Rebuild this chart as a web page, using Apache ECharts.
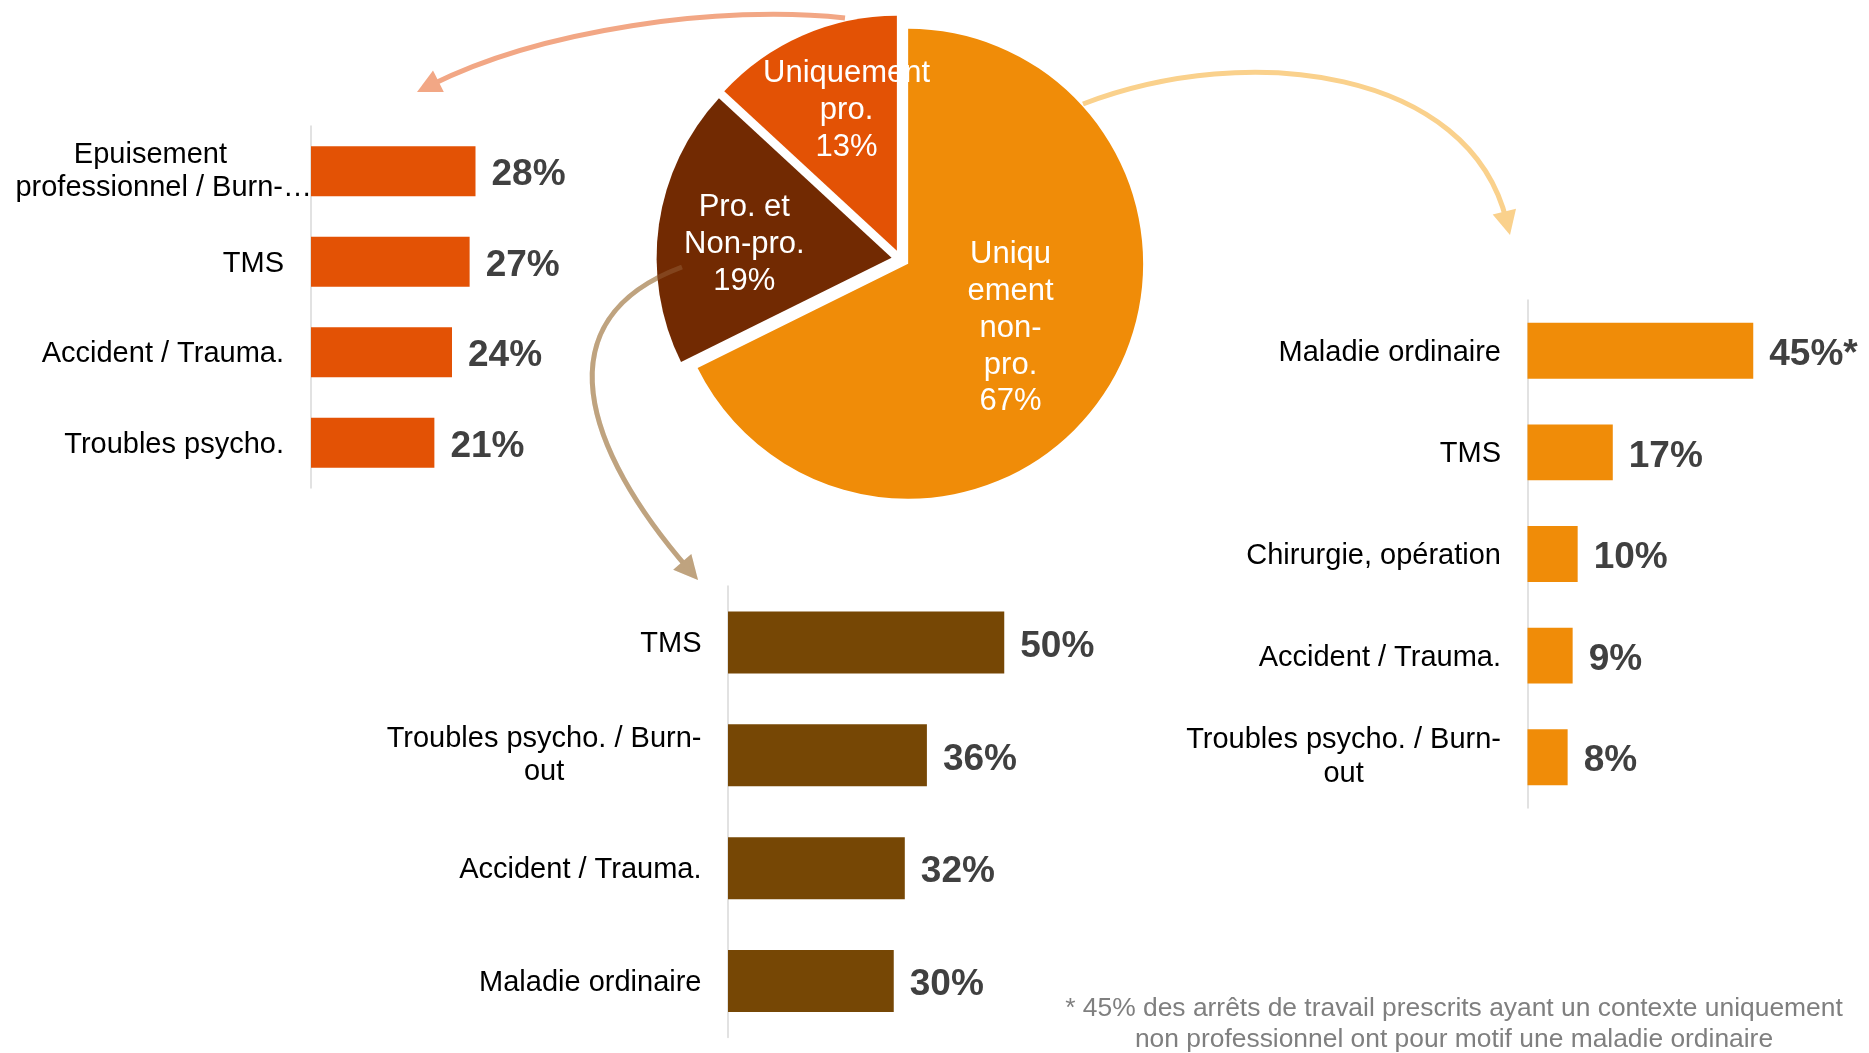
<!DOCTYPE html>
<html>
<head>
<meta charset="utf-8">
<script src="https://cdn.jsdelivr.net/npm/echarts@6/dist/echarts.min.js"></script>
<style>
  html, body { margin: 0; padding: 0; background: #fff; }
  #chart { width: 1869px; height: 1053px; }
</style>
</head>
<body>
<div id="chart"></div>
<script>
// contexte des arrêts (camembert)
var pieNames = ['Uniquement non-pro.', 'Pro. et Non-pro.', 'Uniquement pro.']
var pieLabels = ['Uniqu\nement\nnon-\npro.', 'Pro. et\nNon-pro.', 'Uniquement\npro.']
var pieValues = [67, 19, 13]

// motifs - uniquement pro.
var proCats = ['Epuisement\nprofessionnel / Burn-…', 'TMS', 'Accident / Trauma.', 'Troubles psycho.']
var proValues = [28, 27, 24, 21]

// motifs - pro. et non-pro.
var mixCats = ['TMS', 'Troubles psycho. / Burn-\nout', 'Accident / Trauma.', 'Maladie ordinaire']
var mixValues = [50, 36, 32, 30]

// motifs - uniquement non-pro.
var nonProCats = ['Maladie ordinaire', 'TMS', 'Chirurgie, opération', 'Accident / Trauma.', 'Troubles psycho. / Burn-\nout']
var nonProValues = [45, 17, 10, 9, 8]
var nonProNotes = ['*', '', '', '', '']

var footnote = '* 45% des arrêts de travail prescrits ayant un contexte uniquement\nnon professionnel ont pour motif une maladie ordinaire'

var FONT = "'Liberation Sans', Arial, sans-serif"
var RED = '#E35205'
var ORANGE = '#F08C08'
var BROWN = '#722A02'
var GOLD = '#764705'
var AXIS = '#D9D9D9'

var pieColors = [ORANGE, BROWN, RED]
var pieLabelShift = [[0, 1], [-28, 4], [-2, -30]]

var chart = echarts.init(document.getElementById('chart'))

function valueLabel(notes) {
  return {
    show: true,
    position: 'right',
    distance: 16,
    offset: [0, 4],
    fontFamily: FONT,
    fontSize: 37,
    fontWeight: 'bold',
    color: '#404040',
    formatter: function (p) {
      return p.value + '%' + (notes ? notes[p.dataIndex] : '')
    }
  }
}

// axe des catégories, libellés à gauche de l'axe
function catAxis(gridIndex, cats, margin, formatter, rich) {
  return {
    type: 'category',
    gridIndex: gridIndex,
    data: cats,
    inverse: true,
    axisLine: { lineStyle: { color: AXIS, width: 1.5 } },
    axisTick: { length: 8, lineStyle: { color: AXIS, width: 1.5 } },
    axisLabel: {
      interval: 0,
      margin: margin,
      fontFamily: FONT,
      fontSize: 29,
      color: '#000',
      formatter: formatter,
      rich: rich
    }
  }
}

var txt = { fontFamily: FONT, fontSize: 29, color: '#000', lineHeight: 33.5 }

// axe de gauche : ancre sur l'axe, le libellé tronqué déborde
function proFormatter(v) {
  var lines = v.split('\n')
  if (lines.length === 1) return '{n|' + v + '}'
  return '{a|' + lines[0] + '}\n{b|' + lines[1] + '}'
}
var proRich = {
  n: Object.assign({ align: 'right', padding: [4, 28, 0, 0] }, txt),
  a: Object.assign({ align: 'right', padding: [0, 85, 0, 0] }, txt),
  b: Object.assign({ align: 'right' }, txt)
}

function centeredFormatter(v) {
  var lines = v.split('\n')
  if (lines.length === 1) return '{n|' + v + '}'
  return lines.map(function (l) { return '{c|' + l + '}' }).join('\n')
}
var centeredRich = {
  n: Object.assign({ align: 'right', padding: [4, 0, 0, 0] }, txt),
  c: Object.assign({ align: 'center' }, txt)
}

function arrow(color, p0, c1, c2, p3, headLen, headHalf, z, opacity) {
  var dx = p3[0] - c2[0], dy = p3[1] - c2[1]
  var len = Math.sqrt(dx * dx + dy * dy)
  var ux = dx / len, uy = dy / len
  var bx = p3[0] - ux * headLen, by = p3[1] - uy * headLen
  var ex = p3[0] - ux * headLen * 0.6, ey = p3[1] - uy * headLen * 0.6
  return [
    {
      type: 'bezierCurve', z: z || 1, silent: true,
      shape: { x1: p0[0], y1: p0[1], cpx1: c1[0], cpy1: c1[1], cpx2: c2[0], cpy2: c2[1], x2: ex, y2: ey },
      style: { stroke: color, lineWidth: 5, fill: null, opacity: opacity || 1 }
    },
    {
      type: 'polygon', z: z || 1, silent: true,
      shape: { points: [[p3[0], p3[1]], [bx - uy * headHalf, by + ux * headHalf], [bx + uy * headHalf, by - ux * headHalf]] },
      style: { fill: color, opacity: opacity || 1 }
    }
  ]
}

var graphics = []
  .concat(arrow('#F2A785', [845, 18], [720, 4], [540, 30], [417, 92], 24, 12))
  .concat(arrow('#FAD18C', [1083, 104], [1250, 40], [1470, 70], [1510, 235], 24, 12))
  .concat(arrow('#BFA37F', [682, 267], [540, 320], [585, 450], [698, 580], 24, 12))
  // même flèche en transparence au-dessus du secteur brun
  .concat(arrow('#BFA37F', [682, 267], [540, 320], [585, 450], [698, 580], 24, 12, 20, 0.22))
graphics.push({
  type: 'text', z: 1, silent: true,
  x: 1454, y: 1024,
  style: {
    text: footnote,
    fill: '#7F7F7F',
    fontFamily: FONT,
    fontSize: 26.4,
    lineHeight: 31,
    align: 'center',
    verticalAlign: 'middle'
  }
})

var option = {
  backgroundColor: '#fff',
  animation: false,
  grid: [
    { left: 311, top: 126, width: 352.5, height: 362 },
    { left: 728, top: 586, width: 331.5, height: 451.5 },
    { left: 1527.5, top: 300, width: 301, height: 508 }
  ],
  xAxis: [0, 1, 2].map(function (i) {
    return { type: 'value', gridIndex: i, min: 0, max: 60, show: false }
  }),
  yAxis: [
    catAxis(0, proCats, -1, proFormatter, proRich),
    catAxis(1, mixCats, 26.5, centeredFormatter, centeredRich),
    catAxis(2, nonProCats, 26.5, centeredFormatter, centeredRich)
  ],
  graphic: graphics,
  series: [
    {
      type: 'pie',
      z: 5,
      center: [900.5, 259],
      radius: 235,
      startAngle: 90,
      clockwise: true,
      selectedMode: 'multiple',
      selectedOffset: 9,
      silent: true,
      emphasis: { disabled: true },
      select: { itemStyle: { borderWidth: 0 } },
      data: pieValues.map(function (v, i) {
        return { value: v, name: pieNames[i], selected: true, itemStyle: { color: pieColors[i] } }
      }),
      label: {
        show: true,
        position: 'inside',
        color: '#fff',
        fontFamily: FONT,
        fontSize: 31,
        lineHeight: 36.7,
        formatter: function (p) {
          return pieLabels[p.dataIndex] + '\n' + p.value + '%'
        }
      },
      labelLine: { show: false },
      labelLayout: function (p) {
        var s = pieLabelShift[p.dataIndex]
        return { dx: s[0], dy: s[1] }
      }
    },
    {
      type: 'bar', xAxisIndex: 0, yAxisIndex: 0, data: proValues,
      barCategoryGap: '45%', silent: true,
      itemStyle: { color: RED },
      label: valueLabel()
    },
    {
      type: 'bar', xAxisIndex: 1, yAxisIndex: 1, data: mixValues,
      barCategoryGap: '45%', silent: true,
      itemStyle: { color: GOLD },
      label: valueLabel()
    },
    {
      type: 'bar', xAxisIndex: 2, yAxisIndex: 2, data: nonProValues,
      barCategoryGap: '45%', silent: true,
      itemStyle: { color: ORANGE },
      label: valueLabel(nonProNotes)
    }
  ]
}

chart.setOption(option)
</script>
</body>
</html>
